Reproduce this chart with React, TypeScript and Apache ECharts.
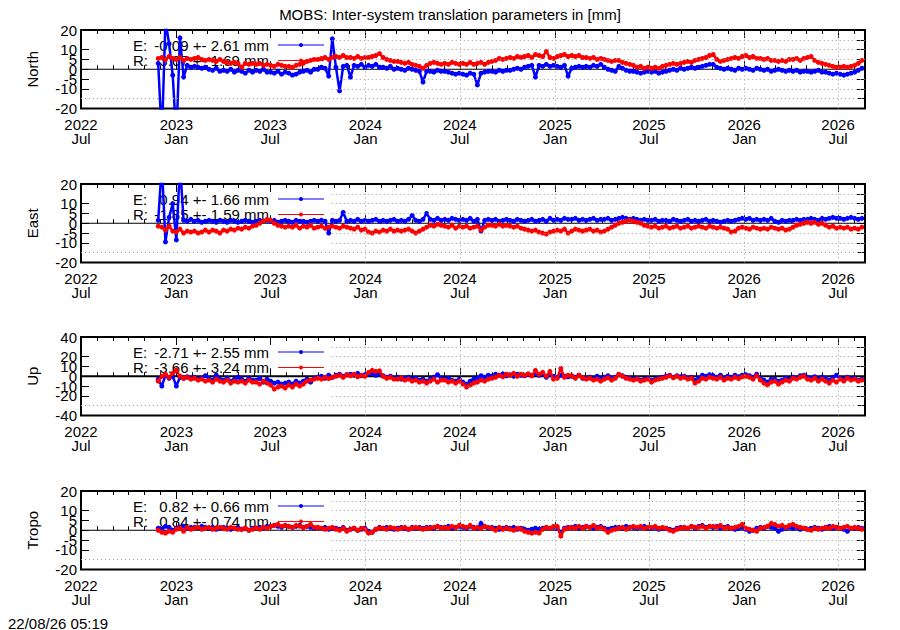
import React, { useEffect, useRef } from "react";
import * as echarts from "echarts";

// ---------- time frame ----------
const X_MIN_DATE = "2022-07-01";
const X_MAX_DATE = "2026-08-22";
const KEY_END_DATE = "2023-10-28"; // right edge of the opaque key box
const SAMPLE_START = "2022-11-27";
const SAMPLE_STEP_DAYS = 7;

const MAJOR_TICK_DATES = [
  "2022-07-01", "2023-01-01", "2023-07-01", "2024-01-01", "2024-07-01",
  "2025-01-01", "2025-07-01", "2026-01-01", "2026-07-01",
];
const MAJOR_TICK_LABELS = [
  "2022\nJul", "2023\nJan", "2023\nJul", "2024\nJan", "2024\nJul",
  "2025\nJan", "2025\nJul", "2026\nJan", "2026\nJul",
];
const VGRID_DATES = [
  "2024-01-01", "2024-07-01", "2025-01-01", "2025-07-01", "2026-01-01", "2026-07-01",
];

// ---------- weekly samples (one row per month) ----------
const NORTH_E = [
  3.0,
  -35, 25, 13, -3,
  -35, 16, -4, 2.0, 1.0,
  1.5, 1.0, 0.5, 1.0,
  0.0, -0.5, 0.5, -1.0,
  -0.5, -1.0, 0.0, -1.5, -0.5,
  -1.0, -2.0, -0.5, -1.5,
  -0.5, -1.0, 0.0, -1.5,
  -1.5, -2.0, -1.0, -2.5, -1.5,
  -2.0, -3.0, -2.5, -1.5,
  -1.0, -0.5, -1.5, 0.0,
  0.0, 1.0, 0.5, -3.5, 15.5,
  1.0, -11, 1.5, 2.0,
  -4.0, 2.0, 1.5, 2.5, 1.0,
  2.0, 1.5, 2.5, 1.0,
  1.0, 0.5, 1.5, 0.0,
  0.5, 0.0, -0.5, 0.5, 0.0,
  -0.5, -1.0, -6.5, -1.0,
  -1.0, -1.5, -0.5, -1.0,
  -1.0, -1.5, -2.0, -2.5, -2.0,
  -2.5, -3.0, -2.0, -2.5,
  -8.0, -2.0, -1.5, -1.0,
  -1.0, -1.5, -0.5, -1.0, -0.5,
  -0.5, 0.0, 0.5, 0.0,
  1.0, 1.5, 2.0, -4.0,
  2.0, 1.5, 2.5, 1.5, 2.0,
  1.5, 1.0, 2.0, -3.5,
  0.5, 1.0, 1.5, 1.0,
  1.5, 1.0, 2.0, 1.5, 2.5,
  1.0, 0.0, -0.5, -1.0,
  1.5, 0.5, -0.5, -1.0,
  -1.0, -1.5, -2.0, -1.5, -1.0,
  -1.5, -1.0, -2.0, -1.5,
  -1.0, -0.5, 0.0, -0.5, 0.5,
  0.0, 0.5, 1.0, 0.5,
  1.0, 1.5, 2.0, 2.5,
  2.5, 1.0, 0.5, 0.0, 0.5,
  0.0, -0.5, 0.5, 0.0,
  0.5, 0.0, -0.5, 0.5,
  0.0, -0.5, 0.0, -1.0,
  -0.5, 0.0, -0.5, -1.0, -0.5,
  -1.0, -0.5, -1.5, -1.0,
  -1.0, -1.5, -1.0, -0.5, -1.5,
  -1.5, -2.0, -2.5, -2.0,
  -2.5, -3.0, -2.5, -2.0,
  -1.5, -0.5, 0.5,
];
const NORTH_R = [
  5.5,
  6.0, 5.0, 6.5, 5.5,
  5.0, 6.0, 4.5, 5.5, 5.0,
  5.5, 6.0, 5.0, 4.5,
  5.0, 4.5, 4.0, 5.0,
  4.0, 3.5, 3.0, 3.5, 3.0,
  1.0, 3.0, 2.5, 3.0,
  2.5, 3.0, 2.0, 2.5,
  2.0, 1.5, 2.5, 2.0, 1.5,
  1.5, 1.0, 2.0, 2.5,
  3.0, 4.0, 4.5, 5.0,
  5.0, 5.5, 6.0, 5.0, 6.0,
  6.5, 6.0, 7.0, 6.0,
  6.0, 5.5, 6.5, 5.5, 6.0,
  6.0, 6.5, 7.0, 8.0,
  6.0, 5.0, 4.5, 4.0,
  4.0, 3.5, 3.0, 3.5, 2.5,
  2.0, 1.5, 0.5, 2.0,
  3.0, 3.5, 3.0, 2.5,
  3.0, 2.5, 3.5, 3.0, 2.5,
  3.0, 2.5, 3.5, 2.5,
  3.0, 3.5, 2.5, 3.5,
  4.0, 4.5, 5.5, 5.0, 5.5,
  6.0, 5.5, 6.5, 6.0,
  6.5, 7.0, 6.0, 7.5,
  7.0, 6.5, 9.0, 6.0, 5.5,
  6.5, 7.0, 7.5, 6.5,
  7.0, 6.5, 7.0, 6.0,
  6.0, 5.5, 6.0, 5.0, 5.5,
  5.0, 4.5, 4.0, 4.5,
  4.5, 3.5, 3.0, 2.5,
  2.0, 1.0, 1.5, 0.5, 1.0,
  0.5, 1.0, 0.5, 1.5,
  2.0, 2.5, 3.0, 2.5, 3.0,
  3.5, 4.0, 3.5, 4.5,
  5.0, 5.5, 6.0, 7.0,
  7.5, 5.0, 4.0, 4.5, 5.0,
  5.5, 6.0, 5.5, 6.5,
  7.0, 6.0, 6.5, 5.5,
  5.5, 5.0, 5.5, 4.5,
  4.5, 4.0, 4.5, 4.0, 5.0,
  5.0, 5.5, 4.5, 5.5,
  6.0, 6.5, 4.5, 3.5, 3.0,
  2.5, 2.0, 1.5, 1.0,
  1.0, 1.5, 1.0, 1.5,
  2.0, 3.0, 4.5,
];
const EAST_E = [
  1.5,
  30, -9.5, 3.0, 10.0,
  -8.5, 30, 1.5, 1.0, 2.0,
  1.0, 1.5, 0.5, 1.0,
  1.5, 1.0, 0.5, 1.5,
  1.0, 0.5, 1.5, 1.0, 0.5,
  1.0, 1.5, 1.0, 0.5,
  1.0, 1.5, 1.0, 1.5,
  1.0, 1.5, 0.5, 1.0, 1.5,
  1.0, 0.5, 1.5, 1.0,
  1.0, 0.5, 1.0, 1.5,
  1.0, 1.5, 1.0, -5.0, 1.5,
  1.0, 1.5, 5.5, 1.0,
  1.5, 1.0, 2.0, 1.0, 1.5,
  1.0, 1.5, 2.0, 1.0,
  1.5, 1.0, 1.5, 2.0,
  1.0, 1.5, 1.0, 2.0, 4.0,
  1.5, 1.0, 2.0, 5.0,
  2.0, 1.5, 2.5, 1.5,
  2.0, 1.5, 2.5, 2.0, 1.5,
  2.0, 1.5, 2.5, 1.0,
  2.0, -4.0, 1.5, 2.0,
  1.5, 2.0, 1.0, 1.5, 2.0,
  1.5, 1.0, 2.0, 1.5,
  1.0, 1.5, 2.0, 1.0,
  1.5, 2.0, 1.0, 2.5, 1.5,
  2.0, 1.5, 2.5, 2.0,
  2.0, 2.5, 1.5, 2.0,
  1.5, 2.0, 2.5, 1.5, 2.0,
  2.0, 2.5, 1.5, 2.0,
  2.5, 3.0, 2.5, 2.0,
  2.5, 2.0, 1.5, 2.0, 1.5,
  1.5, 2.0, 1.0, 1.5,
  1.5, 1.0, 2.0, 1.5, 1.0,
  1.5, 2.0, 1.0, 1.5,
  1.0, 1.5, 2.0, 1.0,
  1.5, 1.0, 0.5, 1.0, 1.5,
  1.0, 1.5, 2.0, 2.5,
  2.0, 2.5, 1.5, 2.0,
  1.5, 2.0, 1.5, 2.5,
  1.0, 0.5, 1.5, 1.0, 1.5,
  1.5, 2.0, 1.5, 2.0,
  2.0, 2.5, 2.0, 1.5, 2.5,
  2.0, 2.5, 3.0, 2.5,
  2.5, 2.0, 2.5, 3.0,
  2.5, 2.0, 2.5,
];
const EAST_R = [
  -1.5,
  -2.0, -3.5, -1.5, -4.0,
  -4.5, -3.0, -5.0, -4.0, -4.5,
  -4.0, -5.0, -4.5, -3.5,
  -4.5, -3.5, -4.0, -5.0,
  -3.5, -4.0, -3.0, -3.5, -2.5,
  -3.0, -2.0, -2.5, -1.5,
  -1.0, 0.0, 1.0, 2.0,
  1.5, 0.0, -1.0, -1.5, -2.0,
  -1.5, -2.0, -1.0, -2.5,
  -1.5, -2.0, -1.0, -2.5,
  -2.0, -1.5, -2.5, -2.0, -1.5,
  -2.0, -2.5, -1.5, -2.0,
  -2.5, -3.0, -2.0, -3.5, -3.0,
  -4.5, -5.0, -4.0, -4.5,
  -3.5, -4.0, -3.0, -4.0,
  -3.5, -4.0, -3.5, -3.0, -4.0,
  -5.0, -4.0, -3.0, -2.0,
  -1.0, -1.5, -0.5, -1.0,
  -1.5, -2.0, -1.0, -2.5, -1.5,
  -2.0, -1.5, -2.5, -2.0,
  -1.5, -3.5, -2.0, -1.0,
  -1.0, -1.5, -0.5, -1.5, -1.0,
  -1.5, -2.0, -1.5, -2.5,
  -3.0, -3.5, -4.0, -3.5,
  -4.5, -5.0, -5.5, -4.5, -4.0,
  -3.5, -4.0, -3.0, -5.0,
  -4.0, -3.0, -3.5, -4.0,
  -3.5, -3.0, -4.0, -3.5, -4.5,
  -4.0, -3.0, -2.0, -1.0,
  0.0, 0.5, 1.0, 1.5,
  1.0, 0.5, 0.0, -1.0, -1.5,
  -2.0, -1.5, -2.5, -2.0,
  -1.5, -2.5, -2.0, -1.5, -2.5,
  -2.0, -1.5, -2.5, -2.0,
  -1.5, -2.0, -2.5, -1.5,
  -2.0, -2.5, -2.0, -2.5, -3.0,
  -4.5, -4.0, -2.5, -2.0,
  -2.5, -3.0, -2.0, -2.5,
  -3.0, -2.5, -3.0, -2.0,
  -2.5, -3.0, -2.5, -3.5, -3.0,
  -2.0, -1.0, -0.5, 0.0,
  0.5, 0.0, 0.5, -0.5, 0.0,
  -1.0, -2.0, -1.5, -2.5,
  -2.0, -2.5, -2.0, -3.0,
  -2.5, -3.0, -2.0,
];
const UP_E = [
  -3.0,
  -10.0, 1.0, -2.0, 0.0,
  -10.0, -1.0, -2.0, -0.5, -2.0,
  -1.0, -3.0, -2.0, 0.5,
  -2.0, -4.0, 1.0, -3.0,
  -4.0, -2.0, -5.0, -3.0, -1.0,
  -3.0, -5.0, -2.0, -4.0,
  -4.0, -2.0, -6.0, -3.0,
  -5.0, -7.0, -6.0, -8.0, -7.0,
  -6.0, -8.0, -5.0, -7.0,
  -5.0, -3.0, -6.0, -2.0,
  -1.0, 0.0, -2.0, 1.0, -1.0,
  1.0, 2.0, 0.0, 1.5,
  2.0, 1.0, 3.0, 0.5, 1.5,
  2.0, 3.0, 1.0, 2.5,
  0.5, -1.0, 0.0, -2.0,
  -1.0, -3.0, -2.0, -1.0, -3.0,
  -2.0, -4.0, -3.0, -5.0,
  -3.0, -1.0, 1.5, -2.0,
  -3.0, -2.0, -4.0, -5.0, -3.0,
  -6.0, -8.0, -5.0, -3.0,
  -2.0, 0.5, -1.0, 1.0,
  0.0, 2.0, 1.0, 2.5, 0.5,
  1.5, 0.0, 2.0, 1.0,
  0.5, 2.0, 1.0, 2.5,
  1.0, 2.0, -1.0, 1.5, 0.0,
  -1.0, 1.0, 0.0, -0.5,
  0.0, -1.0, 1.0, -2.0,
  -2.0, -1.0, -3.0, 0.0, -2.0,
  -1.0, 0.5, -2.0, -1.0,
  1.5, 0.5, -1.0, -2.0,
  -3.0, -2.0, -4.0, -3.0, -2.0,
  -4.0, -3.0, -2.0, -1.0,
  0.0, 1.0, -1.0, 0.5, -0.5,
  0.0, -2.0, -1.0, -4.0,
  -2.0, 1.0, 0.0, 1.5,
  0.5, -1.0, 1.0, -2.0, 0.0,
  -1.0, 1.0, -0.5, 1.0,
  1.5, 0.5, -1.0, 2.0,
  -2.0, -4.0, -6.0, -3.0,
  -3.0, -5.0, -4.0, -2.0, -3.0,
  -1.0, -2.0, 0.5, 1.0,
  -1.0, -2.0, -0.5, -3.0, -1.0,
  -2.0, -4.0, -1.0, 1.0,
  -2.0, -3.0, -1.0, -2.5,
  -2.0, -4.0, -3.0,
];
const UP_R = [
  -5.0,
  0.0, 2.0, -1.0, 3.0,
  6.5, 0.0, -2.0, -1.0, -3.0,
  -2.0, -4.0, -3.0, -5.0,
  -4.0, -6.0, -3.0, -5.0,
  -6.0, -4.0, -7.0, -5.0, -6.0,
  -5.0, -7.0, -4.0, -6.0,
  -6.0, -8.0, -5.0, -7.0,
  -9.0, -13.0, -11.0, -10.0, -12.0,
  -9.0, -11.0, -8.0, -10.0,
  -8.0, -5.0, -4.0, -3.0,
  -2.0, -3.0, -1.0, -2.5, -1.0,
  0.0, 1.0, -1.0, 1.5,
  0.5, 2.0, -0.5, 1.0, 0.0,
  4.0, 6.0, 5.0, 5.5,
  0.0, -2.0, -1.0, -3.0,
  -3.0, -2.0, -4.0, -3.0, -5.0,
  -4.0, -6.0, -5.0, -7.0,
  -5.0, -3.0, -6.0, -4.0,
  -4.0, -6.0, -5.0, -7.0, -5.0,
  -8.0, -11.0, -9.0, -7.0,
  -6.0, -4.0, -5.0, -3.0,
  -2.0, -1.0, 1.0, -0.5, 2.0,
  1.0, 3.0, 0.0, 2.0,
  1.0, 2.5, 0.5, 6.0,
  2.0, 4.0, 0.0, 5.0, -3.0,
  -2.0, 8.0, -1.0, 1.0,
  0.5, -2.0, 1.0, -1.5,
  -3.0, -2.0, -4.0, -3.0, -5.0,
  -3.0, -1.5, -4.0, -2.0,
  2.0, 0.0, -2.0, -3.0,
  -4.0, -3.0, -5.0, -4.0, -3.0,
  -6.0, -4.0, -3.0, -2.0,
  -1.0, 0.5, -1.5, 0.0, -2.0,
  -1.0, -3.0, -2.0, -7.0,
  -5.0, -2.0, -3.0, -1.0,
  -2.0, -3.0, -1.0, -4.0, -2.0,
  -3.0, -1.0, -2.5, -0.5,
  0.0, -1.0, -3.0, 0.5,
  -4.0, -7.0, -9.0, -6.0,
  -5.0, -8.0, -6.0, -4.0, -5.0,
  -2.0, -3.0, -1.0, 0.0,
  -3.0, -4.0, -2.0, -5.0, -3.0,
  -5.0, -7.0, -4.0, -6.0,
  -3.0, -5.0, -2.0, -4.0,
  -3.0, -5.0, -4.0,
];
const TROPO_E = [
  1.0,
  0.5, 2.0, 1.5, 0.0,
  1.0, 1.5, 2.0, 1.0, 1.5,
  1.5, 1.0, 2.0, 1.5,
  1.0, 1.5, 0.5, 1.0,
  1.5, 1.0, 0.5, 1.0, 1.5,
  0.5, 1.0, 0.0, 1.0,
  1.0, 1.5, 1.0, 2.0,
  2.0, 2.5, 2.0, 1.5, 2.5,
  2.0, 1.5, 2.0, 2.5,
  1.5, 2.0, 1.5, 1.0,
  1.5, 1.0, 1.5, 0.5, 1.0,
  1.0, 0.5, 1.5, 0.0,
  0.5, 1.0, 0.0, 0.5, 1.0,
  -0.5, -1.0, 0.5, 1.5,
  1.0, 1.5, 1.0, 0.5,
  1.0, 1.5, 1.0, 0.5, 1.5,
  1.0, 1.5, 1.0, 1.5,
  1.5, 1.0, 2.0, 1.5,
  1.5, 2.0, 1.0, 1.5, 2.0,
  1.5, 1.0, 2.0, 1.5,
  1.0, 3.5, 2.0, 1.0,
  1.5, 1.0, 0.5, 1.0, 1.5,
  1.0, 1.5, 0.5, 1.0,
  0.5, 0.0, 0.5, 1.0,
  0.5, 1.0, 1.5, 1.0, 1.5,
  1.0, -1.0, 1.0, 1.5,
  1.5, 2.0, 1.0, 1.5,
  2.0, 1.5, 1.0, 1.5, 2.0,
  1.0, 0.5, 1.0, 1.5,
  1.5, 1.0, 2.0, 1.5,
  1.5, 1.0, 1.5, 2.0, 1.0,
  1.0, 1.5, 0.5, 1.0,
  1.0, 0.5, 0.0, 1.0, 1.5,
  1.5, 1.0, 2.0, 1.0,
  2.0, 2.5, 1.5, 2.0,
  1.5, 2.0, 1.0, 1.5, 2.0,
  1.0, 0.5, 1.0, 1.5,
  0.5, -0.5, 0.0, 1.0,
  1.5, 1.0, 2.0, 1.5,
  1.0, -0.5, 0.5, 1.0, 1.5,
  1.0, 1.5, 0.5, 1.0,
  0.5, 1.0, 1.5, 1.0, 0.5,
  1.5, 2.0, 1.0, 1.5,
  1.0, 0.5, -0.5, 1.0,
  1.0, 1.5, 1.0,
];
const TROPO_R = [
  0.0,
  -1.0, -1.5, -0.5, -1.0,
  0.5, 1.0, -0.5, 1.5, 0.5,
  1.0, 1.5, 0.5, 1.0,
  1.5, 0.5, 1.0, 1.5,
  1.0, 0.5, 1.5, 1.0, 0.5,
  0.5, 1.0, 0.0, 0.5,
  1.0, 0.5, 1.5, 1.0,
  2.0, 2.5, 3.0, 2.0, 2.5,
  2.0, 1.5, 2.5, 2.0,
  1.5, 2.0, 3.0, 1.5,
  1.5, 1.0, 0.5, 1.0, 1.5,
  0.5, 0.0, 1.0, -0.5,
  0.5, 1.0, 0.0, 1.0, 0.5,
  -1.5, -1.0, 0.5, 1.0,
  1.0, 0.5, 1.5, 1.0,
  0.5, 1.0, 1.5, 0.5, 1.0,
  1.5, 1.0, 0.5, 1.0,
  1.0, 1.5, 2.0, 1.0,
  1.5, 1.0, 2.0, 1.5, 2.5,
  2.0, 1.5, 2.5, 1.0,
  1.5, 1.0, 2.0, 1.5,
  1.0, 0.0, 1.5, 0.5, 1.0,
  0.5, 0.0, 1.0, 0.5,
  -0.5, -1.0, -1.5, -1.0,
  -1.5, 0.5, 1.5, 1.0, 2.0,
  2.0, -3.0, 0.5, 1.0,
  1.5, 1.0, 2.0, 1.0,
  2.0, 1.5, 2.5, 1.0, 1.5,
  0.5, -1.0, 0.0, 0.5,
  1.0, 1.5, 0.5, 1.5,
  2.0, 1.5, 2.0, 1.0, 1.5,
  1.5, 2.0, 1.0, 1.5,
  1.0, 0.0, -0.5, 0.5, 1.0,
  1.5, 1.0, 2.0, 1.5,
  1.5, 2.0, 1.0, 2.0,
  2.0, 1.5, 2.5, 1.0, 1.5,
  1.0, 1.5, 2.0, 3.0,
  1.0, 0.5, 0.0, -0.5,
  1.0, 1.5, 2.0, 3.5,
  3.0, 2.0, 2.5, 1.5, 2.5,
  3.0, 2.0, 1.5, 1.0,
  0.5, 0.0, 1.0, 0.5, 1.0,
  1.5, 1.0, 2.0, 1.5,
  1.0, 1.5, 2.0, 1.0,
  1.5, 1.0, 0.5,
];

// ---------- panels ----------
const PANEL_NAMES = ["North", "East", "Up", "Tropo"];
const PANEL_Y_RANGES = [
  [-20, 20, 5],
  [-20, 20, 5],
  [-40, 40, 10],
  [-20, 20, 5],
];
const PANEL_E = [NORTH_E, EAST_E, UP_E, TROPO_E];
const PANEL_R = [NORTH_R, EAST_R, UP_R, TROPO_R];
const PANEL_E_STATS = ["-0.09 +- 2.61 mm", "0.94 +- 1.66 mm", "-2.71 +- 2.55 mm", "0.82 +- 0.66 mm"];
const PANEL_R_STATS = ["3.67 +- 1.69 mm", "-1.85 +- 1.59 mm", "-3.66 +- 3.24 mm", "0.84 +- 0.74 mm"];

const TITLE = "MOBS: Inter-system translation parameters in [mm]";
const STAMP = "22/08/26 05:19";

// ---------- layout ----------
const PANEL_TOPS = [30, 184, 337, 491];
const PANEL_H = 78.5;
const GRID_LEFT = 81;
const GRID_RIGHT = 35;
const FONT_FAMILY = '"Liberation Sans", Arial, Helvetica, sans-serif';
const FONT = `15px ${FONT_FAMILY}`;
const BLUE = "#0000ff";
const RED = "#ff0000";

const DAY = 86400000;
const ts = (s: string) => Date.parse(s + "T00:00:00Z");

function buildOption() {
  const xMin = ts(X_MIN_DATE);
  const xMax = ts(X_MAX_DATE);
  const keyEnd = ts(KEY_END_DATE);
  const start = ts(SAMPLE_START);
  const major = MAJOR_TICK_DATES.map(ts);
  const minor: number[] = [];
  {
    const d0 = new Date(xMin);
    let y = d0.getUTCFullYear();
    let m = d0.getUTCMonth();
    while (true) {
      const t = Date.UTC(y, m, 1);
      if (t > xMax) break;
      minor.push(t);
      m++;
      if (m > 11) { m = 0; y++; }
    }
  }
  const vgrid = VGRID_DATES.map(ts);
  const labelOf = (v: number) => {
    const i = major.findIndex((t) => Math.abs(t - v) < DAY);
    return i >= 0 ? MAJOR_TICK_LABELS[i] : "";
  };

  const grids: any[] = [];
  const xAxes: any[] = [];
  const yAxes: any[] = [];
  const series: any[] = [];
  const graphics: any[] = [];

  const tickLine = { color: "#000", width: 1 };

  PANEL_NAMES.forEach((name, p) => {
    const top = PANEL_TOPS[p];
    const [yMin, yMax, yStep] = PANEL_Y_RANGES[p];
    grids.push({
      left: GRID_LEFT,
      right: GRID_RIGHT,
      top,
      height: PANEL_H,
      show: true,
      borderColor: "#000",
      borderWidth: 2,
      backgroundColor: "transparent",
      containLabel: false,
      outerBoundsMode: "none",
    });
    const xa = (position: string, ticks: number[], len: number, labels: boolean) => ({
      type: "value",
      gridIndex: p,
      position,
      min: xMin,
      max: xMax,
      axisLine: { show: false },
      axisTick: { show: true, inside: true, length: len, customValues: ticks, lineStyle: tickLine },
      axisLabel: labels
        ? {
            show: true,
            customValues: major,
            formatter: (v: number) => labelOf(v),
            fontSize: 15,
            lineHeight: 14,
            color: "#000",
            fontFamily: FONT_FAMILY,
            margin: 9,
          }
        : { show: false },
      splitLine: { show: false },
    });
    xAxes.push(xa("bottom", major, 8, true));
    xAxes.push(xa("bottom", minor, 4, false));
    xAxes.push(xa("top", major, 8, false));
    xAxes.push(xa("top", minor, 4, false));

    const ya = (position: string, labels: boolean) => ({
      type: "value",
      gridIndex: p,
      position,
      min: yMin,
      max: yMax,
      interval: yStep,
      axisLine: { show: false },
      axisTick: { show: true, inside: true, length: 8, lineStyle: tickLine },
      axisLabel: labels
        ? {
            show: true,
            showMinLabel: true,
            showMaxLabel: true,
            hideOverlap: false,
            fontSize: 15,
            color: "#000",
            fontFamily: FONT_FAMILY,
            margin: 4,
            padding: [3, 0, 0, 0],
          }
        : { show: false },
      splitLine: { show: false },
    });
    yAxes.push(ya("left", true));
    yAxes.push(ya("right", false));

    const xi = p * 4;
    const yi = p * 2;

    // grid lines (dotted), hidden behind the key box on the left
    const gridLines: any[] = [];
    for (let v = yMin + yStep; v < yMax; v += yStep) {
      if (v === 0) continue;
      const x0 = v === yMin + yStep ? xMin : keyEnd;
      gridLines.push([{ coord: [x0, v] }, { coord: [xMax, v] }]);
    }
    vgrid.forEach((t) => gridLines.push([{ coord: [t, yMin] }, { coord: [t, yMax] }]));
    series.push({
      type: "line",
      name: `grid${p}`,
      xAxisIndex: xi,
      yAxisIndex: yi,
      data: [],
      silent: true,
      z: 1,
      markLine: {
        silent: true,
        animation: false,
        symbol: ["none", "none"],
        label: { show: false },
        lineStyle: { type: [1, 3], color: "#a0a0a0", width: 1 },
        emphasis: { disabled: true },
        data: gridLines,
      },
    });
    // zero axis
    series.push({
      type: "line",
      name: `zero${p}`,
      xAxisIndex: xi,
      yAxisIndex: yi,
      data: [[xMin, 0], [xMax, 0]],
      symbol: "none",
      silent: true,
      z: 1,
      lineStyle: { color: "#000", width: p === 2 ? 2 : 1 },
    });
    const mk = (vals: number[], color: string, z: number) => ({
      type: "line",
      xAxisIndex: xi,
      yAxisIndex: yi,
      data: vals.map((v, i) => [start + i * SAMPLE_STEP_DAYS * DAY, v]),
      symbol: "circle",
      symbolSize: 5,
      showSymbol: true,
      clip: true,
      z,
      lineStyle: { color, width: 2.5 },
      itemStyle: { color },
      emphasis: { disabled: true },
    });
    series.push(mk(PANEL_E[p], BLUE, 2));
    series.push(mk(PANEL_R[p], RED, 3));

    // key
    const rows: [string, string, string, number][] = [
      ["E:", PANEL_E_STATS[p], BLUE, top + 15],
      ["R:", PANEL_R_STATS[p], RED, top + 30.5],
    ];
    rows.forEach(([lab, stat, color, y]) => {
      graphics.push({
        type: "text", x: 133, y, z: 1,
        style: { text: lab, fill: "#000", font: FONT, textAlign: "left", verticalAlign: "middle" },
      });
      graphics.push({
        type: "text", x: 269, y, z: 1,
        style: { text: stat, fill: "#000", font: FONT, textAlign: "right", verticalAlign: "middle" },
      });
      graphics.push({
        type: "line", z: 1,
        shape: { x1: 278, y1: y, x2: 324, y2: y },
        style: { stroke: color, lineWidth: 1 },
      });
      graphics.push({
        type: "circle", z: 1,
        shape: { cx: 301, cy: y, r: 2 },
        style: { fill: color },
      });
    });
    // axis name
    graphics.push({
      type: "text",
      x: 32,
      y: top + PANEL_H / 2,
      rotation: Math.PI / 2,
      z: 1,
      style: { text: name, fill: "#000", font: FONT, textAlign: "center", verticalAlign: "middle" },
    });
  });

  graphics.push({
    type: "text", x: 450, y: 14.5, z: 1,
    style: { text: TITLE, fill: "#000", font: FONT, textAlign: "center", verticalAlign: "middle" },
  });
  graphics.push({
    type: "text", x: 8, y: 623, z: 1,
    style: { text: STAMP, fill: "#000", font: FONT, textAlign: "left", verticalAlign: "middle" },
  });

  return {
    animation: false,
    backgroundColor: "#ffffff",
    grid: grids,
    xAxis: xAxes,
    yAxis: yAxes,
    series,
    graphic: { elements: graphics },
  };
}

export default function App() {
  const ref = useRef<HTMLDivElement>(null);
  useEffect(() => {
    if (!ref.current) return;
    const chart = echarts.init(ref.current, null, { renderer: "svg" });
    chart.setOption(buildOption() as any);
    return () => chart.dispose();
  }, []);
  return (
    <div
      ref={ref}
      style={{ position: "fixed", left: 0, top: 0, width: 900, height: 630, background: "#fff" }}
    />
  );
}
